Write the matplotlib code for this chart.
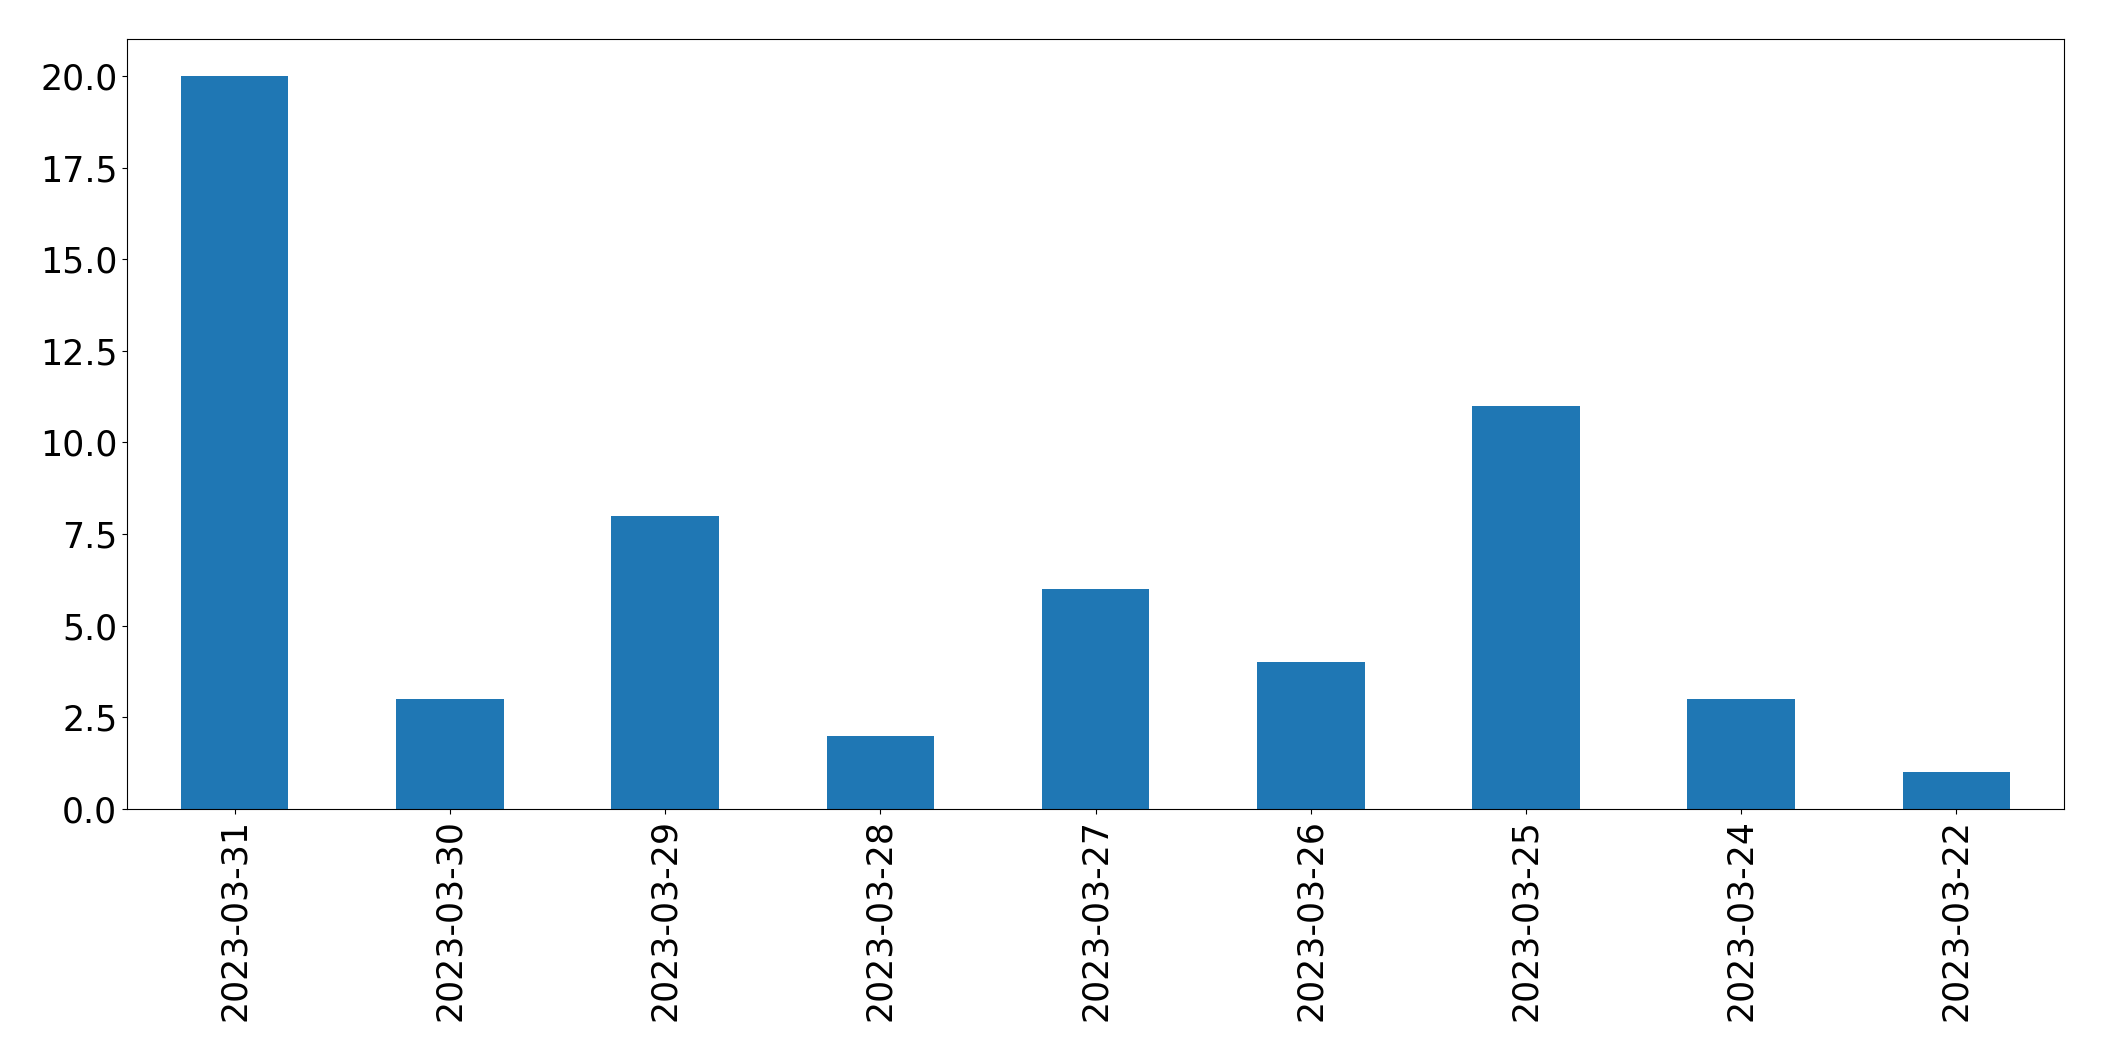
import pandas as pd
import matplotlib
matplotlib.use("Agg")
import matplotlib.pyplot as plt

# daily counts, newest first
dates = ['2023-03-31', '2023-03-30', '2023-03-29', '2023-03-28', '2023-03-27',
         '2023-03-26', '2023-03-25', '2023-03-24', '2023-03-22']
counts = [20, 3, 8, 2, 6, 4, 11, 3, 1]

s = pd.Series(counts, index=dates)

fig, ax = plt.subplots(figsize=(21.04, 10.61), dpi=100)
s.plot(kind='bar', ax=ax, fontsize=25, color='#1f77b4')
plt.subplots_adjust(left=0.0604, right=0.981, top=0.963, bottom=0.2375)
fig.savefig('out.png', dpi=100)
